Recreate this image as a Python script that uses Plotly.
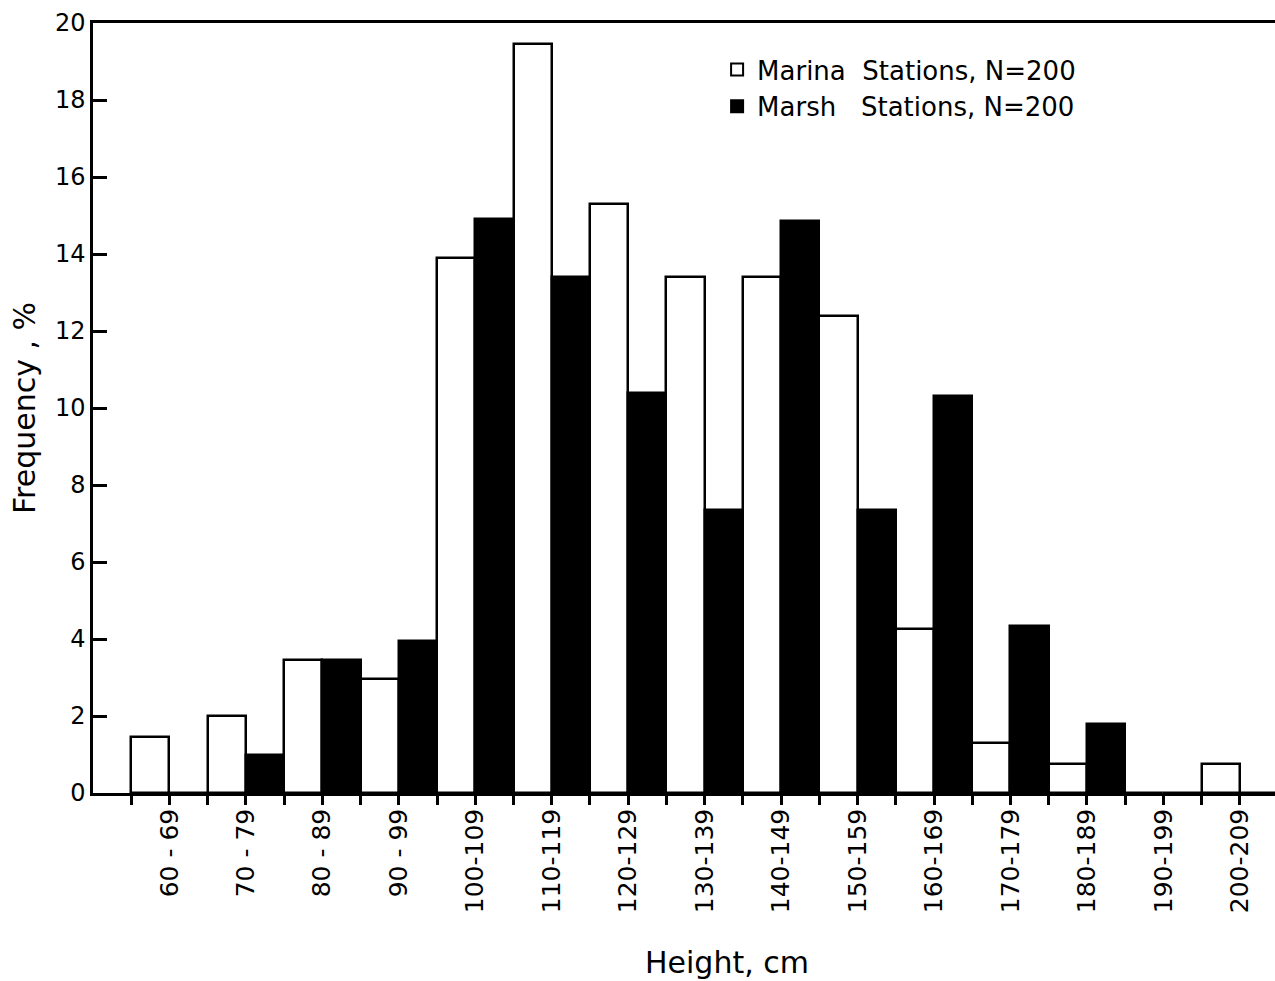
import plotly.graph_objects as go

# Plant height classes (cm) and frequency (%) at each station type
height_bins = ["60 - 69", "70 - 79", "80 - 89", "90 - 99", "100-109", "110-119",
               "120-129", "130-139", "140-149", "150-159", "160-169", "170-179",
               "180-189", "190-199", "200-209"]
marina_pct = [1.45, 2.0, 3.45, 2.95, 13.9, 19.45, 15.3, 13.4, 13.4, 12.4,
              4.25, 1.3, 0.75, 0.0, 0.75]
marsh_pct = [0.0, 1.0, 3.45, 3.95, 14.9, 13.4, 10.4, 7.35, 14.85, 7.35,
             10.3, 4.35, 1.8, 0.0, 0.0]
y_ticks = [0, 2, 4, 6, 8, 10, 12, 14, 16, 18, 20]

FONT = "DejaVu Sans"
INK = "black"
pos = list(range(len(height_bins)))

fig = go.Figure()
fig.add_trace(go.Bar(
    x=pos, y=marina_pct, name="Marina\u00a0\u00a0Stations, N=200",
    marker=dict(color="white", line=dict(color=INK, width=2.5)),
))
fig.add_trace(go.Bar(
    x=pos, y=marsh_pct, name="Marsh\u00a0\u00a0\u00a0Stations, N=200",
    marker=dict(color=INK, line=dict(color=INK, width=2.5)),
))

fig.update_layout(
    width=1275, height=981,
    margin=dict(l=93, r=0, t=23, b=188),
    paper_bgcolor="white", plot_bgcolor="white",
    barmode="group", bargap=0, bargroupgap=0,
    font=dict(family=FONT, color=INK, size=24),
    showlegend=True,
    legend=dict(
        x=0.528, y=0.970, xanchor="left", yanchor="top",
        bgcolor="rgba(0,0,0,0)", borderwidth=0,
        font=dict(family=FONT, size=26, color=INK),
        itemsizing="constant", tracegroupgap=0,
    ),
)

fig.update_xaxes(
    range=[-1, 14.46], tickmode="array", tickvals=pos, ticktext=height_bins,
    tickangle=-90, ticks="outside", ticklen=9, tickwidth=2.5, tickcolor=INK,
    minor=dict(tick0=-0.5, dtick=1, ticks="outside", ticklen=9,
               tickwidth=2.5, tickcolor=INK),
    showline=True, linecolor=INK, linewidth=2.5, mirror=True,
    showgrid=False, zeroline=False, ticklabelstandoff=-6,
    tickfont=dict(family=FONT, size=25, color=INK),
)
fig.update_yaxes(
    range=[0, 20], tickmode="array", tickvals=y_ticks,
    ticks="inside", ticklen=14, tickwidth=2.5, tickcolor=INK,
    showline=True, linecolor=INK, linewidth=2.5, mirror=False,
    showgrid=False, zeroline=False,
    tickfont=dict(family=FONT, size=24, color=INK),
    title=dict(text="Frequency , %", font=dict(family=FONT, size=30, color=INK),
               standoff=11),
)

fig.add_annotation(
    text="Height, cm", xref="paper", yref="paper",
    x=(727 - 93) / 1182, y=-0.220, xanchor="center", yanchor="middle",
    showarrow=False, font=dict(family=FONT, size=30, color=INK),
)

fig.write_html("out.html")
